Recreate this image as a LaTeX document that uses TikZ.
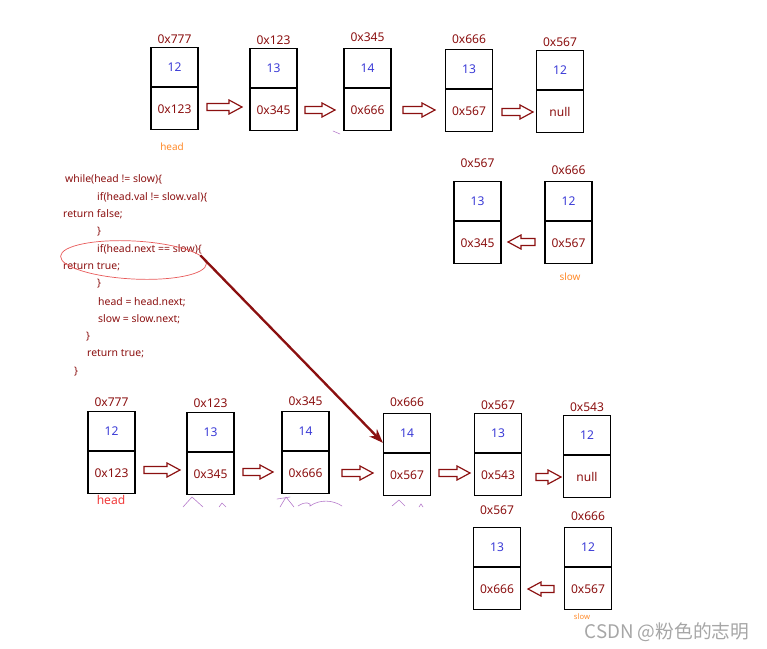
\documentclass[tikz,border=0pt]{standalone}
\usepackage{fontspec}
\setmainfont{Noto Sans}
\newfontfamily\cjkfont{Noto Sans CJK SC}
\usepackage{tikz}
\usetikzlibrary{arrows.meta,positioning,shapes.geometric}
\definecolor{addrred}{HTML}{8B1010}
\definecolor{valblue}{HTML}{3B3BD6}
\definecolor{tagorange}{HTML}{FF8A2A}
\definecolor{headred}{HTML}{F03A3A}
\definecolor{ringred}{HTML}{E85A5A}
\definecolor{scribble}{HTML}{B57ACB}
\tikzset{
  valbox/.style={draw,line width=1pt,minimum width=1.41cm,minimum height=1.17cm,inner sep=0pt,text=valblue,font=\fontsize{10.3}{12}\selectfont},
  ptrbox/.style={valbox,minimum height=1.26cm,text=addrred},
  addr/.style={text=addrred,font=\fontsize{10.3}{12}\selectfont,inner sep=0pt},
  hollow/.style={draw=addrred,line width=1pt,fill=white,line join=miter},
  code/.style={text=addrred,font=\fontsize{8.9}{10}\selectfont,anchor=west,inner sep=0pt},
  tag/.style={text=tagorange,font=\fontsize{8.5}{10}\selectfont,inner sep=0pt},
  scrib/.style={draw=scribble,line width=0.5pt,line cap=round},
}

\begin{document}
\begin{tikzpicture}[>=Stealth,x=0.03cm,y=-0.03cm]
  \useasboundingbox (0,0) rectangle (767,648);
  % first list
  \foreach \i/\x/\t/\ly/\a/\v/\p in {1/174.5/47/39/0x777/12/0x123,2/273.5/48/40/0x123/13/0x345,3/367.5/48/37/0x345/14/0x666,4/469/49/39/0x666/13/0x567,5/560/50/42/0x567/12/null}{
    \node[valbox,anchor=north] (t\i) at (\x,\t) {\v};
    \node[ptrbox,below=0pt of t\i] (tp\i) {\p};
    \node[addr] (ta\i) at (\x,\ly) {\a};
  }
  \node[tag] (head1) at (172,147) {head};
  % reversed half, first time
  \foreach \i/\x/\t/\ly/\a/\v/\p in {1/477.5/181/163/0x567/13/0x345,2/568.5/181/170/0x666/12/0x567}{
    \node[valbox,anchor=north] (m\i) at (\x,\t) {\v};
    \node[ptrbox,below=0pt of m\i] (mp\i) {\p};
    \node[addr] (ma\i) at (\x,\ly) {\a};
  }
  \node[tag] (slow1) at (570,277) {slow};
  % second list
  \foreach \i/\x/\t/\ly/\a/\v/\p in {1/111.5/411/402/0x777/12/0x123,2/210.5/412/403/0x123/13/0x345,3/305.5/411/401/0x345/14/0x666,4/407/413/402/0x666/14/0x567,5/498/413/405/0x567/13/0x543,6/587/415/407/0x543/12/null}{
    \node[valbox,anchor=north] (b\i) at (\x,\t) {\v};
    \node[ptrbox,below=0pt of b\i] (bp\i) {\p};
    \node[addr] (ba\i) at (\x,\ly) {\a};
  }
  \node[text=headred,font=\fontsize{10.3}{12}\selectfont,inner sep=0pt] (head2) at (111,500) {head};
  % reversed half, second time
  \foreach \i/\x/\t/\ly/\a/\v/\p in {1/497/527/510/0x567/13/0x666,2/588/527/516/0x666/12/0x567}{
    \node[valbox,anchor=north] (l\i) at (\x,\t) {\v};
    \node[ptrbox,below=0pt of l\i] (lp\i) {\p};
    \node[addr] (la\i) at (\x,\ly) {\a};
  }
  \node[tag,font=\fontsize{6.5}{8}\selectfont] (slow2) at (582,617) {slow};
  % hollow arrows
  \foreach \a/\b/\y in {207/242/107,305/335/110,403/435/110,502/533/112,535/508/242,144/180/470,243/273/472,342/373/473,439/470/473,536/561/477,554/528/589}{
    \draw[hollow] (\a,\y-3.5) -- ({\b-13*sign(\b-\a)},\y-3.5) -- ({\b-13*sign(\b-\a)},\y-7) -- (\b,\y)
      -- ({\b-13*sign(\b-\a)},\y+7) -- ({\b-13*sign(\b-\a)},\y+3.5) -- (\a,\y+3.5) -- cycle;
  }
  % code
  \node[code] (c1) at (65,179) {while(head != slow)\{};
  \node[code] (c2) at (97,197) {if(head.val != slow.val)\{};
  \node[code] (c3) at (63,214) {return false;};
  \node[code] (c4) at (97,232) {\}};
  \node[code] (c5) at (97,249) {if(head.next == slow)\{};
  \node[code] (c6) at (63,267) {return true;};
  \node[code] (c7) at (97,284) {\}};
  \node[code] (c8) at (98,302) {head = head.next;};
  \node[code] (c9) at (98,319) {slow = slow.next;};
  \node[code] (c10) at (86,337) {\}};
  \node[code] (c11) at (87,354) {return true;};
  \node[code] (c12) at (74,372) {\}};
  \node[draw=ringred,line width=0.6pt,ellipse,minimum width=4.38cm,minimum height=1.14cm,rotate=-3] (ring) at (133.5,260) {};
  \draw[->,addrred,line width=2pt] (ring.7) -- (b4.202);
  % pencil marks
  \draw[scrib] (333,131) -- (340,134);
  \draw[scrib] (183,507) -- (192,497) -- (203,507);
  \draw[scrib] (219,507) -- (222,503) -- (226,507);
  \draw[scrib] (277,499) -- (290,497) (286,497) -- (280,507) (286,497) -- (294,507);
  \draw[scrib] (298,506) .. controls (305,501) and (312,503) .. (310,506) .. controls (320,499) and (333,500) .. (342,506);
  \draw[scrib] (392,506) -- (399,500) -- (405,506);
  \draw[scrib] (419,507) -- (421,504) -- (423,507);
  % watermark
  \node[text=black!35,font=\cjkfont\fontsize{16}{18}\selectfont,inner sep=0pt] (mark) at (667,632) {CSDN @粉色的志明};
\end{tikzpicture}
\end{document}
